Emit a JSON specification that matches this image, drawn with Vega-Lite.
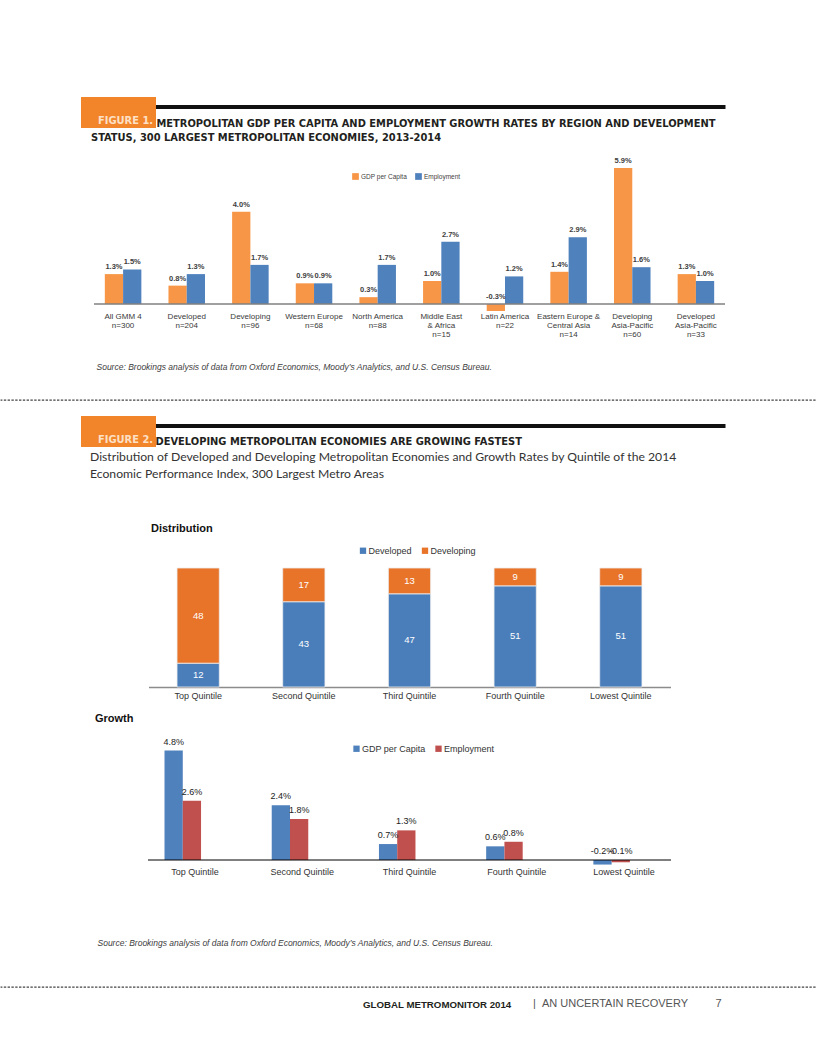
{
  "$schema": "https://vega.github.io/schema/vega-lite/v6.json",
  "padding": {"left": 0, "top": 97, "right": 0, "bottom": 0},
  "background": "white",
  "config": {"view": {"stroke": null}, "font": "Liberation Sans", "axis": {"grid": false}},
  "title": {"text": "\u200b|\u00a0\u00a0AN UNCERTAIN RECOVERY\u00a0\u00a0\u00a0\u00a0\u00a0\u00a0\u00a0\u00a0\u00a07", "orient": "bottom", "anchor": "end", "font": "Liberation Sans", "fontSize": 11, "fontWeight": "normal", "color": "#555555", "offset": -12, "dx": -97},
  "bounds": "flush",
  "center": true,
  "spacing": 0,
  "resolve": {"scale": {"color": "independent", "strokeDash": "independent"}, "legend": {"color": "independent", "strokeDash": "independent"}},
  "vconcat": [
    {"width": 632, "height": 4, "data": {"values": []}, "mark": "point", "view": {"fill": "#111111", "stroke": null}},
    {
      "width": 631,
      "height": 202,
      "title": {
        "text": ["\u200b\u00a0\u00a0\u00a0\u00a0\u00a0\u00a0\u00a0\u00a0\u00a0\u00a0\u00a0\u00a0\u00a0\u00a0\u00a0\u00a0\u00a0\u00a0\u00a0METROPOLITAN GDP PER CAPITA AND EMPLOYMENT GROWTH RATES BY REGION AND DEVELOPMENT", "STATUS, 300 LARGEST METROPOLITAN ECONOMIES, 2013-2014"],
        "anchor": "start", "dx": 10, "font": "DejaVu Sans Condensed, Liberation Sans, sans-serif", "fontSize": 11, "fontWeight": "bold", "color": "#231f20", "lineHeight": 14, "offset": -46
      },
      "data": {"values": [
        {"region": "All GMM 4|n=300", "series": "GDP per Capita", "value": 1.3},
        {"region": "All GMM 4|n=300", "series": "Employment", "value": 1.5},
        {"region": "Developed|n=204", "series": "GDP per Capita", "value": 0.8},
        {"region": "Developed|n=204", "series": "Employment", "value": 1.3},
        {"region": "Developing|n=96", "series": "GDP per Capita", "value": 4.0},
        {"region": "Developing|n=96", "series": "Employment", "value": 1.7},
        {"region": "Western Europe|n=68", "series": "GDP per Capita", "value": 0.9},
        {"region": "Western Europe|n=68", "series": "Employment", "value": 0.9},
        {"region": "North America|n=88", "series": "GDP per Capita", "value": 0.3},
        {"region": "North America|n=88", "series": "Employment", "value": 1.7},
        {"region": "Middle East|& Africa|n=15", "series": "GDP per Capita", "value": 1.0},
        {"region": "Middle East|& Africa|n=15", "series": "Employment", "value": 2.7},
        {"region": "Latin America|n=22", "series": "GDP per Capita", "value": -0.3},
        {"region": "Latin America|n=22", "series": "Employment", "value": 1.2},
        {"region": "Eastern Europe &|Central Asia|n=14", "series": "GDP per Capita", "value": 1.4},
        {"region": "Eastern Europe &|Central Asia|n=14", "series": "Employment", "value": 2.9},
        {"region": "Developing|Asia-Pacific|n=60", "series": "GDP per Capita", "value": 5.9},
        {"region": "Developing|Asia-Pacific|n=60", "series": "Employment", "value": 1.6},
        {"region": "Developed|Asia-Pacific|n=33", "series": "GDP per Capita", "value": 1.3},
        {"region": "Developed|Asia-Pacific|n=33", "series": "Employment", "value": 1.0}
      ]},
      "transform": [{"calculate": "(datum.value < 0 ? '-' : '') + format(abs(datum.value), '.1f') + '%'", "as": "label"}],
      "layer": [
        {
          "mark": {"type": "bar"},
          "encoding": {
            "x": {"field": "region", "type": "nominal", "sort": null,
              "scale": {"paddingInner": 0.426, "paddingOuter": 0.17},
              "axis": {
                "title": "Source: Brookings analysis of data from Oxford Economics, Moody’s Analytics, and U.S. Census Bureau.",
                "labelAngle": 0, "labelExpr": "split(datum.value, '|')", "labelFontSize": 8, "labelLineHeight": 9,
                "labelColor": "#3a3a3a", "labelPadding": 1, "ticks": false, "domain": false,
                "titleFontStyle": "italic", "titleFontWeight": "normal", "titleFontSize": 8.5, "titleColor": "#404040",
                "titleAnchor": "start", "titleAlign": "left", "titleX": 2, "titlePadding": 24
              }},
            "xOffset": {"field": "series", "type": "nominal", "sort": ["GDP per Capita", "Employment"]},
            "y": {"field": "value", "type": "quantitative", "scale": {"domain": [-0.3, 8.46], "nice": false, "zero": false}, "axis": null},
            "color": {"field": "series", "type": "nominal", "sort": ["GDP per Capita", "Employment"],
              "scale": {"domain": ["GDP per Capita", "Employment"], "range": ["#f79646", "#4f81bd"]},
              "legend": {"orient": "none", "legendX": 258, "legendY": 64, "direction": "horizontal", "title": null, "symbolType": "square", "symbolSize": 45, "labelFontSize": 6.5, "labelColor": "#404040", "symbolStrokeWidth": 0, "columnPadding": 8, "labelOffset": 2}}
          }
        },
        {
          "data": {"values": [{}]},
          "mark": {"type": "rule", "color": "#808080", "strokeWidth": 1.5},
          "encoding": {"y": {"datum": 0, "type": "quantitative"}}
        },
        {
          "data": {"values": [{"tag": "FIGURE 1."}]},
          "mark": {"type": "rule", "opacity": 0},
          "encoding": {
            "y": {"datum": 0, "type": "quantitative"},
            "strokeDash": {"field": "tag", "type": "nominal", "scale": {"range": [[1, 0]]},
              "legend": {"orient": "none", "legendX": -13, "legendY": -12, "fillColor": "#f2842a", "padding": 2, "title": "\u00a0", "titleFontSize": 14, "titlePadding": 2,
                "symbolOpacity": 0, "symbolSize": 0, "symbolStrokeWidth": 0, "labelOffset": 4,
                "labelFont": "DejaVu Sans Condensed, Liberation Sans, sans-serif", "labelFontSize": 11, "labelFontWeight": "bold", "labelColor": "#fde0c5", "labelExpr": "datum.label + '\u00a0'"}}
          }
        },
        {
          "transform": [{"filter": "datum.value >= 0"}],
          "mark": {"type": "text", "baseline": "bottom", "dy": -3, "fontSize": 7.5, "fontWeight": "bold", "color": "#404040"},
          "encoding": {
            "x": {"field": "region", "type": "nominal", "sort": null},
            "xOffset": {"field": "series", "type": "nominal", "sort": ["GDP per Capita", "Employment"]},
            "y": {"field": "value", "type": "quantitative"},
            "text": {"field": "label"}
          }
        },
        {
          "transform": [{"filter": "datum.value < 0"}],
          "mark": {"type": "text", "baseline": "bottom", "dy": -3, "fontSize": 7.5, "fontWeight": "bold", "color": "#404040"},
          "encoding": {
            "x": {"field": "region", "type": "nominal", "sort": null},
            "xOffset": {"field": "series", "type": "nominal", "sort": ["GDP per Capita", "Employment"]},
            "y": {"datum": 0, "type": "quantitative"},
            "text": {"field": "label"}
          }
        }
      ]
    },
    {"width": 817, "height": 89, "data": {"values": []}, "mark": "point"},
    {"width": 817, "height": 0.01, "data": {"values": []}, "mark": "point", "view": {"stroke": "#444444", "strokeDash": [1.2, 2.6], "strokeWidth": 1.3}},
    {"width": 632, "height": 23, "data": {"values": []}, "mark": "point"},
    {"width": 632, "height": 4, "data": {"values": []}, "mark": "point", "view": {"fill": "#111111", "stroke": null}},
    {
      "width": 522,
      "height": 259,
      "title": {
        "text": "\u200b\u00a0\u00a0\u00a0\u00a0\u00a0\u00a0\u00a0\u00a0\u00a0\u00a0\u00a0\u00a0\u00a0\u00a0\u00a0\u00a0\u00a0\u00a0\u00a0DEVELOPING METROPOLITAN ECONOMIES ARE GROWING FASTEST",
        "subtitle": ["Distribution of Developed and Developing Metropolitan Economies and Growth Rates by Quintile of the 2014", "Economic Performance Index, 300 Largest Metro Areas"],
        "anchor": "start", "dx": 9, "font": "DejaVu Sans Condensed, Liberation Sans, sans-serif", "fontSize": 11, "fontWeight": "bold", "color": "#231f20",
        "subtitleFont": "Lato", "subtitleFontSize": 12.2, "subtitleColor": "#333333", "subtitleLineHeight": 17, "subtitlePadding": 4, "offset": -64
      },
      "data": {"values": [
        {"q": "Top Quintile", "type": "Developed", "n": 12},
        {"q": "Top Quintile", "type": "Developing", "n": 48},
        {"q": "Second Quintile", "type": "Developed", "n": 43},
        {"q": "Second Quintile", "type": "Developing", "n": 17},
        {"q": "Third Quintile", "type": "Developed", "n": 47},
        {"q": "Third Quintile", "type": "Developing", "n": 13},
        {"q": "Fourth Quintile", "type": "Developed", "n": 51},
        {"q": "Fourth Quintile", "type": "Developing", "n": 9},
        {"q": "Lowest Quintile", "type": "Developed", "n": 51},
        {"q": "Lowest Quintile", "type": "Developing", "n": 9}
      ]},
      "transform": [
        {"stack": "n", "groupby": ["q"], "sort": [{"field": "type", "order": "ascending"}], "as": ["n0", "n1"]},
        {"calculate": "(datum.n0 + datum.n1) / 2", "as": "mid"}
      ],
      "layer": [
        {
          "mark": {"type": "bar", "stroke": "#eeeeee", "strokeWidth": 0.8},
          "encoding": {
            "x": {"field": "q", "type": "nominal", "sort": null,
              "scale": {"paddingInner": 0.6, "paddingOuter": 0.27},
              "axis": {"title": null, "labelAngle": 0, "labelFontSize": 9, "labelColor": "#333333", "labelPadding": 4, "ticks": false, "domainColor": "#8c8c8c", "domainWidth": 1.5}},
            "y": {"field": "n0", "type": "quantitative", "scale": {"domain": [0, 130.6], "nice": false},
              "axis": {"title": "Distribution", "labels": false, "ticks": false, "domain": false, "grid": false, "titleAngle": 0, "titleX": 2, "titleY": 100, "titleAlign": "left", "titleBaseline": "middle", "titleFontSize": 11, "titleFontWeight": "bold", "titleColor": "#111111"}},
            "y2": {"field": "n1"},
            "color": {"field": "type", "type": "nominal",
              "scale": {"domain": ["Developed", "Developing"], "range": ["#4a7ebb", "#e8742a"]},
              "legend": {"orient": "none", "legendX": 210, "legendY": 118, "direction": "horizontal", "title": null, "symbolType": "square", "symbolSize": 40, "labelFontSize": 9, "labelColor": "#333333", "symbolStrokeWidth": 0, "columnPadding": 8, "labelOffset": 1}}
          }
        },
        {
          "mark": {"type": "text", "color": "white", "fontSize": 9.5, "baseline": "middle"},
          "encoding": {
            "x": {"field": "q", "type": "nominal", "sort": null},
            "y": {"field": "mid", "type": "quantitative"},
            "text": {"field": "n", "type": "quantitative"}
          }
        },
        {
          "data": {"values": [{"tag": "FIGURE 2."}]},
          "mark": {"type": "rule", "opacity": 0},
          "encoding": {
            "y": {"datum": 0, "type": "quantitative"},
            "strokeDash": {"field": "tag", "type": "nominal", "scale": {"range": [[1, 0]]},
              "legend": {"orient": "none", "legendX": -67.5, "legendY": -12, "fillColor": "#f2842a", "padding": 2, "title": "\u00a0", "titleFontSize": 14, "titlePadding": 2,
                "symbolOpacity": 0, "symbolSize": 0, "symbolStrokeWidth": 0, "labelOffset": 4,
                "labelFont": "DejaVu Sans Condensed, Liberation Sans, sans-serif", "labelFontSize": 11, "labelFontWeight": "bold", "labelColor": "#fde0c5", "labelExpr": "datum.label + '\u00a0'"}}
          }
        }
      ]
    },
    {
      "width": 523,
      "height": 178.7,
      "title": {"text": "Growth", "anchor": "start", "dx": -2, "fontSize": 11, "fontWeight": "bold", "font": "Liberation Sans", "color": "#111111", "offset": -37},
      "data": {"values": [
        {"q": "Top Quintile", "series": "GDP per Capita", "value": 4.8},
        {"q": "Top Quintile", "series": "Employment", "value": 2.6},
        {"q": "Second Quintile", "series": "GDP per Capita", "value": 2.4},
        {"q": "Second Quintile", "series": "Employment", "value": 1.8},
        {"q": "Third Quintile", "series": "GDP per Capita", "value": 0.7},
        {"q": "Third Quintile", "series": "Employment", "value": 1.3},
        {"q": "Fourth Quintile", "series": "GDP per Capita", "value": 0.6},
        {"q": "Fourth Quintile", "series": "Employment", "value": 0.8},
        {"q": "Lowest Quintile", "series": "GDP per Capita", "value": -0.2},
        {"q": "Lowest Quintile", "series": "Employment", "value": -0.1}
      ]},
      "transform": [{"calculate": "(datum.value < 0 ? '-' : '') + format(abs(datum.value), '.1f') + '%'", "as": "label"}],
      "layer": [
        {
          "mark": {"type": "bar"},
          "encoding": {
            "x": {"field": "q", "type": "nominal", "sort": null,
              "scale": {"paddingInner": 0.43, "paddingOuter": 0.154},
              "axis": {
                "title": "Source: Brookings analysis of data from Oxford Economics, Moody’s Analytics, and U.S. Census Bureau.",
                "labelAngle": 0, "labelFontSize": 9, "labelColor": "#333333", "labelPadding": 2, "ticks": false, "domain": false,
                "titleFontStyle": "italic", "titleFontWeight": "normal", "titleFontSize": 8.5, "titleColor": "#404040",
                "titleAnchor": "start", "titleAlign": "left", "titleX": -51, "titlePadding": 62
              }},
            "xOffset": {"field": "series", "type": "nominal", "sort": ["GDP per Capita", "Employment"]},
            "y": {"field": "value", "type": "quantitative", "scale": {"domain": [-0.25, 7.59], "nice": false, "zero": false}, "axis": null},
            "color": {"field": "series", "type": "nominal", "sort": ["GDP per Capita", "Employment"],
              "scale": {"domain": ["GDP per Capita", "Employment"], "range": ["#4f81bd", "#c0504d"]},
              "legend": {"orient": "none", "legendX": 204, "legendY": 57, "direction": "horizontal", "title": null, "symbolType": "square", "symbolSize": 40, "labelFontSize": 9, "labelColor": "#333333", "symbolStrokeWidth": 0, "columnPadding": 8, "labelOffset": 1}}
          }
        },
        {
          "data": {"values": [{}]},
          "mark": {"type": "rule", "color": "#000000", "strokeWidth": 1},
          "encoding": {"y": {"datum": 0, "type": "quantitative"}}
        },
        {
          "transform": [{"filter": "datum.value >= 0"}],
          "mark": {"type": "text", "baseline": "bottom", "dy": -4, "fontSize": 9, "color": "#222222"},
          "encoding": {
            "x": {"field": "q", "type": "nominal", "sort": null},
            "xOffset": {"field": "series", "type": "nominal", "sort": ["GDP per Capita", "Employment"]},
            "y": {"field": "value", "type": "quantitative"},
            "text": {"field": "label"}
          }
        },
        {
          "transform": [{"filter": "datum.value < 0"}],
          "mark": {"type": "text", "baseline": "bottom", "dy": -4, "fontSize": 9, "color": "#222222"},
          "encoding": {
            "x": {"field": "q", "type": "nominal", "sort": null},
            "xOffset": {"field": "series", "type": "nominal", "sort": ["GDP per Capita", "Employment"]},
            "y": {"datum": 0, "type": "quantitative"},
            "text": {"field": "label"}
          }
        }
      ]
    },
    {"width": 817, "height": 120.3, "data": {"values": []}, "mark": "point"},
    {"width": 817, "height": 0.01, "data": {"values": []}, "mark": "point", "view": {"stroke": "#444444", "strokeDash": [1.2, 2.6], "strokeWidth": 1.3},
      "title": {"text": "GLOBAL METROMONITOR 2014", "orient": "bottom", "anchor": "start", "dx": 362, "offset": 13, "font": "Liberation Sans", "fontSize": 9.7, "fontWeight": "bold", "color": "#231f20"}}
  ]
}
